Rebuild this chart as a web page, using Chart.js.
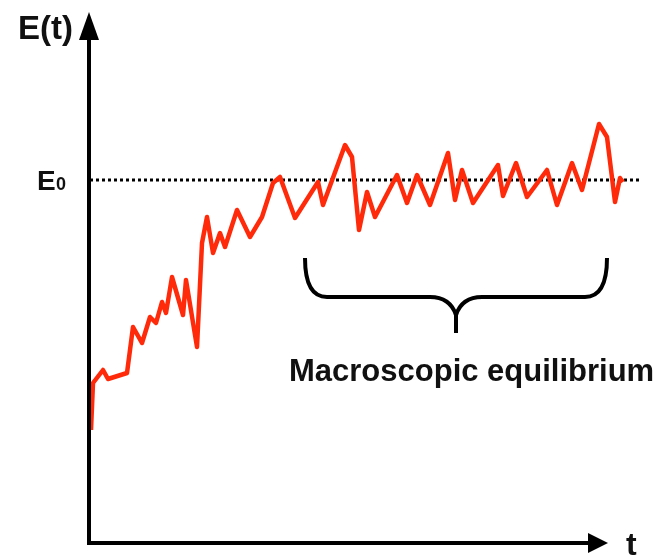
<!DOCTYPE html>
<html>
<head>
<meta charset="utf-8">
<script src="https://cdn.jsdelivr.net/npm/chart.js@4"></script>
<style>
  body{margin:0;background:#fff}
  canvas{display:block}
</style>
</head>
<body>
<canvas id="myChart" width="654" height="556"></canvas>
<script>
// time (arbitrary units) and energy
const tValues=[1,3,13,18,37,43,52,60,66,72,76,82,93,96,107,112,117,123,130,135,147,160,172,183,190,205,228,233,255,262,269,277,285,307,317,327,340,358,365,372,383,408,413,426,437,457,467,482,492,509,517,525,530,533]
const energyValues=[113,160,173,164,170,216,200,226,220,241,230,266,228,263,196,300,326,290,310,296,333,306,326,360,366,325,361,338,398,386,313,351,326,368,340,368,338,390,343,373,340,378,347,380,346,373,338,380,353,419,406,341,365,361]
const e0Level=363
const e0Range=[0,550]
const equilibriumRange=[215,517]
const xMax=554
const yMax=528

const lineData=tValues.map((t,i)=>({x:t,y:energyValues[i]}))
const e0Data=e0Range.map(t=>({x:t,y:e0Level}))

const FONT='"Liberation Sans", Arial, sans-serif'

const decorations={
  id:'decorations',
  afterDraw(chart){
    const ctx=chart.ctx
    const a=chart.chartArea
    const xs=chart.scales.x, ys=chart.scales.y
    ctx.save()
    ctx.strokeStyle='#000'
    ctx.fillStyle='#000'
    ctx.lineWidth=4
    ctx.lineCap='butt'
    // axes
    const ox=a.left-1, oy=a.bottom
    const xEnd=xs.getPixelForValue(518)
    ctx.beginPath()
    ctx.moveTo(ox,38)
    ctx.lineTo(ox,oy)
    ctx.lineTo(xEnd-14,oy)
    ctx.stroke()
    // arrow heads
    ctx.beginPath()
    ctx.moveTo(ox,12);ctx.lineTo(ox-10,40);ctx.lineTo(ox+10,40);ctx.closePath();ctx.fill()
    ctx.beginPath()
    ctx.moveTo(xEnd,oy);ctx.lineTo(xEnd-20,oy-10);ctx.lineTo(xEnd-20,oy+10);ctx.closePath();ctx.fill()

    // labels
    ctx.fillStyle='#111'
    ctx.font='bold 33px '+FONT
    ctx.textBaseline='alphabetic'
    ctx.textAlign='right'
    ctx.fillText('E(t)',73,39)
    ctx.textAlign='left'
    ctx.font='bold 32px '+FONT
    ctx.fillText('t',xEnd+18,555)
    const e0y=ys.getPixelForValue(e0Level)
    ctx.font='bold 28px '+FONT
    ctx.fillText('E',37,e0y+10)
    ctx.font='bold 18px '+FONT
    ctx.fillText('0',56,e0y+10)

    // brace under the equilibrium part
    const bx0=xs.getPixelForValue(equilibriumRange[0])
    const bx1=xs.getPixelForValue(equilibriumRange[1])
    const mid=(bx0+bx1)/2
    const top=258, flat=297, tip=333
    ctx.lineWidth=4
    ctx.lineJoin='round'
    ctx.beginPath()
    ctx.moveTo(bx0,top)
    ctx.quadraticCurveTo(bx0,flat,bx0+22,flat)
    ctx.lineTo(mid-26,flat)
    ctx.quadraticCurveTo(mid-6,flat,mid,flat+18)
    ctx.lineTo(mid,tip)
    ctx.moveTo(mid,flat+18)
    ctx.quadraticCurveTo(mid+6,flat,mid+26,flat)
    ctx.lineTo(bx1-22,flat)
    ctx.quadraticCurveTo(bx1,flat,bx1,top)
    ctx.stroke()

    ctx.font='bold 31px '+FONT
    ctx.textAlign='left'
    ctx.fillText('Macroscopic equilibrium',289,381)
    ctx.restore()
  }
}

const config={
  type:'line',
  data:{
    datasets:[{
      label:'E(t)',
      data:lineData,
      borderColor:'#ff2a0a',
      borderWidth:4.5,
      pointRadius:0,
      tension:0,
      borderJoinStyle:'round'
    },{
      label:'E0',
      data:e0Data,
      borderColor:'#000',
      borderWidth:3,
      borderDash:[3,3],
      pointRadius:0
    }]
  },
  options:{
    responsive:false,
    animation:false,
    layout:{padding:{left:90,right:10,top:15,bottom:13}},
    plugins:{legend:{display:false},tooltip:{enabled:false}},
    scales:{
      x:{type:'linear',min:0,max:xMax,display:false},
      y:{min:0,max:yMax,display:false}
    }
  },
  plugins:[decorations]
}

var myChart=new Chart('myChart',config)
</script>
</body>
</html>
